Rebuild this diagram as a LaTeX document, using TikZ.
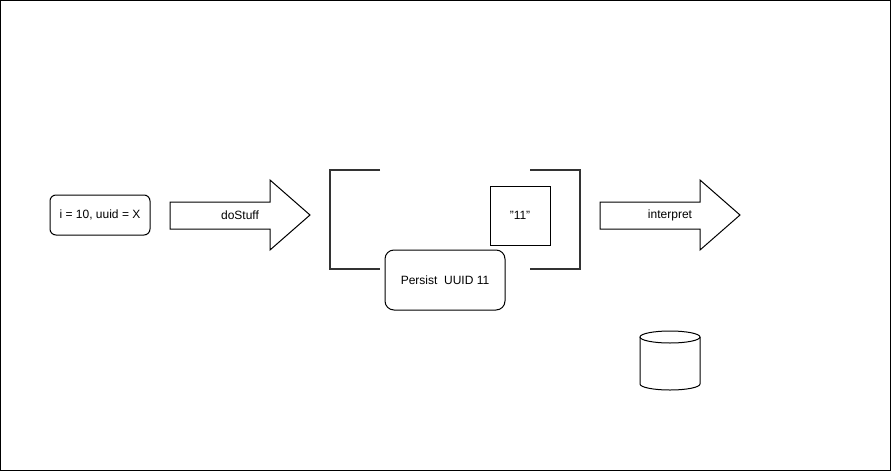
\documentclass[tikz,border=0pt]{standalone}
\usepackage{fontspec}
\setmainfont{Liberation Sans}
\usetikzlibrary{shapes.geometric}
\begin{document}
\begin{tikzpicture}[x=1pt,y=-1pt,
  every node/.style={font=\fontsize{12}{14}\selectfont, inner sep=0pt},
  shape line/.style={draw=black, line width=1pt},
  bracket/.style={draw=black!80, line width=2pt},
]
\path[use as bounding box] (0,0) rectangle (891,471);
\draw[line width=1pt] (0.5,0.5) rectangle (890.5,470.5);

% start box
\draw[shape line, rounded corners=6] (50,195) rectangle (150,235);
\node (start) at (100,215) {i = 10, uuid = X};

% doStuff arrow
\draw[shape line, line join=miter] (170,202) -- (270,202) -- (270,180) -- (310,215) -- (270,250) -- (270,229) -- (170,229) -- cycle;
\node (dostuff) at (240,215) {doStuff};

% brackets
\draw[bracket] (380,170) -- (330,170) -- (330,269) -- (380,269);
\draw[bracket] (530,170) -- (580,170) -- (580,269) -- (530,269);

% "11" box
\draw[shape line] (490,186) rectangle (550,245);
\node (eleven) at (520,215) {"11"};

% Persist box
\draw[shape line, fill=white, rounded corners=9] (385,250) rectangle (505,310);
\node (persist) at (445,280) {Persist\ \ UUID 11};

% interpret arrow
\draw[shape line, line join=miter] (600,202) -- (700,202) -- (700,180) -- (740,215) -- (700,250) -- (700,229) -- (600,229) -- cycle;
\node (interpret) at (670,215) {interpret};

% cylinder
\draw[shape line] (640,337) -- (640,384) arc[start angle=180, end angle=0, x radius=30, y radius=6] -- (700,337);
\draw[shape line] (670,337) ellipse[x radius=30, y radius=6];
\end{tikzpicture}
\end{document}
